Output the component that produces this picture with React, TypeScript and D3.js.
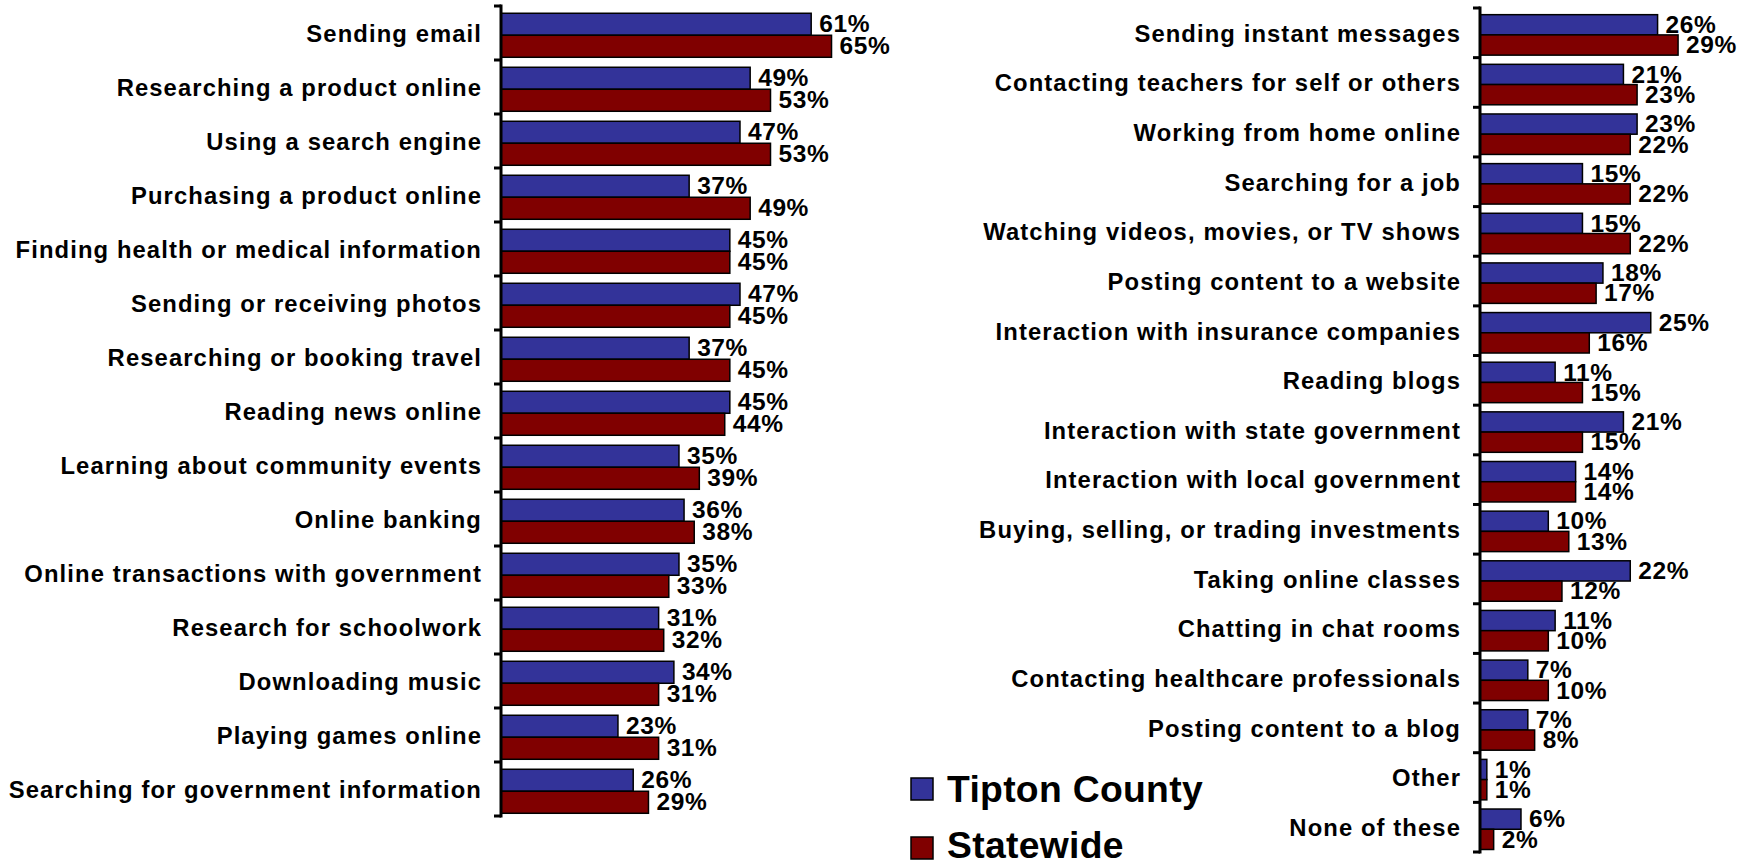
import React from "react";
import * as d3 from "d3";

const leftCategories = [
  "Sending email",
  "Researching a product online",
  "Using a search engine",
  "Purchasing a product online",
  "Finding health or medical information",
  "Sending or receiving photos",
  "Researching or booking travel",
  "Reading news online",
  "Learning about community events",
  "Online banking",
  "Online transactions with government",
  "Research for schoolwork",
  "Downloading music",
  "Playing games online",
  "Searching for government information",
];
const leftTipton = [61, 49, 47, 37, 45, 47, 37, 45, 35, 36, 35, 31, 34, 23, 26];
const leftStatewide = [65, 53, 53, 49, 45, 45, 45, 44, 39, 38, 33, 32, 31, 31, 29];

const rightCategories = [
  "Sending instant messages",
  "Contacting teachers for self or others",
  "Working from home online",
  "Searching for a job",
  "Watching videos, movies, or TV shows",
  "Posting content to a website",
  "Interaction with insurance companies",
  "Reading blogs",
  "Interaction with state government",
  "Interaction with local government",
  "Buying, selling, or trading investments",
  "Taking online classes",
  "Chatting in chat rooms",
  "Contacting healthcare professionals",
  "Posting content to a blog",
  "Other",
  "None of these",
];
const rightTipton = [26, 21, 23, 15, 15, 18, 25, 11, 21, 14, 10, 22, 11, 7, 7, 1, 6];
const rightStatewide = [29, 23, 22, 22, 22, 17, 16, 15, 15, 14, 13, 12, 10, 10, 8, 1, 2];

const seriesNames = ["Tipton County", "Statewide"];
const seriesColors = ["#333399", "#800000"];

const FONT = "'Liberation Sans', Arial, Helvetica, sans-serif";

type PanelProps = {
  categories: string[];
  a: number[];
  b: number[];
  axisX: number;
  top: number;
  bottom: number;
  pxPerPct: number;
};

function Panel({ categories, a, b, axisX, top, bottom, pxPerPct }: PanelProps) {
  const y = d3
    .scaleBand<string>()
    .domain(categories)
    .range([top, bottom])
    .paddingInner(0.185)
    .paddingOuter(0.0925);
  const x = d3.scaleLinear().domain([0, 100]).range([axisX, axisX + pxPerPct * 100]);
  const step = y.step();
  const shift = step * 0.042;
  const bw = y.bandwidth() / 2;
  const ticks = d3.range(categories.length + 1).map((i) => top + i * step);
  const series = [a, b];
  return (
    <g>
      {categories.map((c, i) => {
        const y0 = (y(c) as number) + shift;
        return (
          <g key={c}>
            {series.map((vals, s) => (
              <g key={s}>
                <rect
                  x={x(0)}
                  y={y0 + s * bw}
                  width={x(vals[i]) - x(0)}
                  height={bw}
                  fill={seriesColors[s]}
                  stroke="#000"
                  strokeWidth={1.5}
                />
                <text
                  x={x(vals[i]) + 8}
                  y={y0 + s * bw + bw / 2 + 8.2}
                  fontFamily={FONT}
                  fontWeight="bold"
                  fontSize={24.5}
                  letterSpacing={0.6}
                  fill="#000"
                >
                  {vals[i]}%
                </text>
              </g>
            ))}
            <text
              x={axisX - 19}
              y={top + i * step + step / 2 + 8.8}
              textAnchor="end"
              fontFamily={FONT}
              fontWeight="bold"
              fontSize={23.8}
              letterSpacing={1.1}
              fill="#000"
            >
              {c}
            </text>
          </g>
        );
      })}
      <line x1={axisX} x2={axisX} y1={top - 1.5} y2={bottom + 1.5} stroke="#000" strokeWidth={3} />
      {ticks.map((t, i) => (
        <line key={i} x1={axisX - 7} x2={axisX} y1={t} y2={t} stroke="#000" strokeWidth={3} />
      ))}
    </g>
  );
}

export default function App() {
  return (
    <svg
      width={1746}
      height={861}
      style={{ position: "absolute", left: 0, top: 0, display: "block", background: "#fff" }}
    >
      <rect x={0} y={0} width={1746} height={861} fill="#fff" />
      <Panel
        categories={leftCategories}
        a={leftTipton}
        b={leftStatewide}
        axisX={501}
        top={6}
        bottom={816}
        pxPerPct={5.085}
      />
      <Panel
        categories={rightCategories}
        a={rightTipton}
        b={rightStatewide}
        axisX={1480}
        top={8}
        bottom={852}
        pxPerPct={6.83}
      />
      {seriesNames.map((n, i) => (
        <g key={n}>
          <rect
            x={911}
            y={778 + i * 59}
            width={22}
            height={22}
            fill={seriesColors[i]}
            stroke="#000"
            strokeWidth={1.5}
          />
          <text
            x={947}
            y={801.5 + i * 56}
            fontFamily={FONT}
            fontWeight="bold"
            fontSize={37.3}
            letterSpacing={0.3}
            fill="#000"
          >
            {n}
          </text>
        </g>
      ))}
    </svg>
  );
}
